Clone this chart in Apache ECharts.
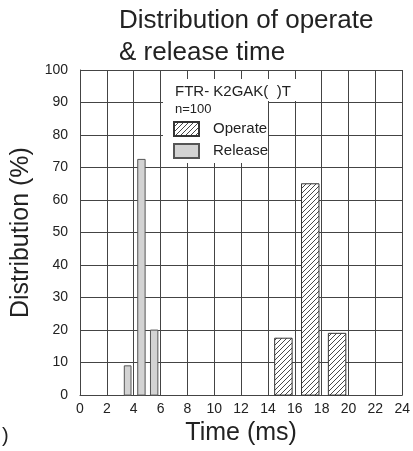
<!DOCTYPE html>
<html>
<head>
<meta charset="utf-8">
<script src="https://cdn.jsdelivr.net/npm/echarts@6/dist/echarts.min.js"></script>
<style>
html,body{margin:0;padding:0;background:#fff;}
#chart{width:413px;height:451px;}
</style>
</head>
<body>
<div id="chart"></div>
<script>
// ---- data ----
const titleLines = ['Distribution of operate', '& release time'];
const xTicks = [0, 2, 4, 6, 8, 10, 12, 14, 16, 18, 20, 22, 24];
const yTicks = [0, 10, 20, 30, 40, 50, 60, 70, 80, 90, 100];
const seriesNames = ['Operate', 'Release'];
const releaseStart = [3.3, 4.3, 5.25];
const releaseEnd = [3.8, 4.85, 5.8];
const releaseValues = [9, 72.5, 20];
const operateStart = [14.5, 16.5, 18.5];
const operateEnd = [15.8, 17.8, 19.8];
const operateValues = [17.5, 65, 19];
const modelLabel = 'FTR- K2GAK(  )T';
const sampleLabel = 'n=100';

// hatch pattern
function makeHatch() {
  const s = 5;
  const c = document.createElement('canvas');
  c.width = s; c.height = s;
  const g = c.getContext('2d');
  g.fillStyle = '#ffffff';
  g.fillRect(0, 0, s, s);
  g.strokeStyle = '#333333';
  g.lineWidth = 0.9;
  g.beginPath();
  g.moveTo(0, s); g.lineTo(s, 0);
  g.moveTo(-1, 1); g.lineTo(1, -1);
  g.moveTo(s - 1, s + 1); g.lineTo(s + 1, s - 1);
  g.stroke();
  return c;
}
const hatch = { image: makeHatch(), repeat: 'repeat' };

const toRows = (a, b, v) => a.map((s, i) => [s, b[i], v[i]]);

const renderBin = function (params, api) {
  const x0 = api.value(0), x1 = api.value(1), y = api.value(2);
  const p0 = api.coord([x0, y]);
  const p1 = api.coord([x1, 0]);
  return {
    type: 'rect',
    shape: { x: p0[0], y: p0[1], width: p1[0] - p0[0], height: p1[1] - p0[1] },
    style: api.style()
  };
};

const font = 'Liberation Sans, Arial, Helvetica, sans-serif';
const gridColor = '#444';

const chart = echarts.init(document.getElementById('chart'), null, { renderer: 'canvas' });
chart.setOption({
  backgroundColor: '#fff',
  animation: false,
  title: {
    text: titleLines.join('\n'),
    left: 119,
    top: 5,
    padding: 0,
    textStyle: { fontFamily: font, fontSize: 26, fontWeight: 'normal', color: '#222', lineHeight: 32 }
  },
  grid: { left: 80, right: 8, top: 70, bottom: 54, containLabel: false },
  xAxis: {
    type: 'value',
    min: xTicks[0], max: xTicks[xTicks.length - 1], interval: xTicks[1] - xTicks[0],
    name: 'Time (ms)', nameLocation: 'middle', nameGap: 24,
    nameTextStyle: { fontFamily: font, fontSize: 25, color: '#222' },
    axisLine: { show: true, lineStyle: { color: gridColor, width: 1 } },
    axisTick: { show: false },
    axisLabel: { fontFamily: font, fontSize: 14, color: '#222', margin: 7 },
    splitLine: { show: true, lineStyle: { color: gridColor, width: 1 } }
  },
  yAxis: {
    type: 'value',
    min: yTicks[0], max: yTicks[yTicks.length - 1], interval: yTicks[1] - yTicks[0],
    name: 'Distribution (%)', nameLocation: 'middle', nameGap: 44,
    nameTextStyle: { fontFamily: font, fontSize: 25, color: '#222' },
    axisLine: { show: true, lineStyle: { color: gridColor, width: 1 } },
    axisTick: { show: false },
    axisLabel: { fontFamily: font, fontSize: 14, color: '#222', margin: 12 },
    splitLine: { show: true, lineStyle: { color: gridColor, width: 1 } }
  },
  legend: {
    orient: 'vertical',
    left: 173, top: 121,
    padding: 0,
    itemWidth: 25, itemHeight: 14, itemGap: 6,
    icon: 'rect',
    selectedMode: false,
    textStyle: { fontFamily: font, fontSize: 15, color: '#222', padding: [0, 0, 0, 9] },
    data: seriesNames
  },
  graphic: [
    { type: 'rect', z: 1, shape: { x: 163, y: 79, width: 105, height: 84 }, style: { fill: '#fff' } },
    { type: 'rect', z: 1, shape: { x: 163, y: 79, width: 136, height: 22 }, style: { fill: '#fff' } },
    { type: 'text', z: 5, left: 175, top: 84, style: { text: modelLabel, font: '15px ' + font, fill: '#222' } },
    { type: 'text', z: 5, left: 175, top: 103, style: { text: sampleLabel, font: '13px ' + font, fill: '#222' } },
    { type: 'text', z: 5, left: 2, top: 426, style: { text: ')', font: '20px ' + font, fill: '#222' } }
  ],
  series: [
    {
      name: seriesNames[0], type: 'custom', renderItem: renderBin,
      encode: { x: [0, 1], y: 2 },
      itemStyle: { color: hatch, borderColor: '#333', borderWidth: 1 },
      data: toRows(operateStart, operateEnd, operateValues), z: 3
    },
    {
      name: seriesNames[1], type: 'custom', renderItem: renderBin,
      encode: { x: [0, 1], y: 2 },
      itemStyle: { color: '#d3d3d3', borderColor: '#555', borderWidth: 1 },
      data: toRows(releaseStart, releaseEnd, releaseValues), z: 3
    }
  ]
});
</script>
</body>
</html>
